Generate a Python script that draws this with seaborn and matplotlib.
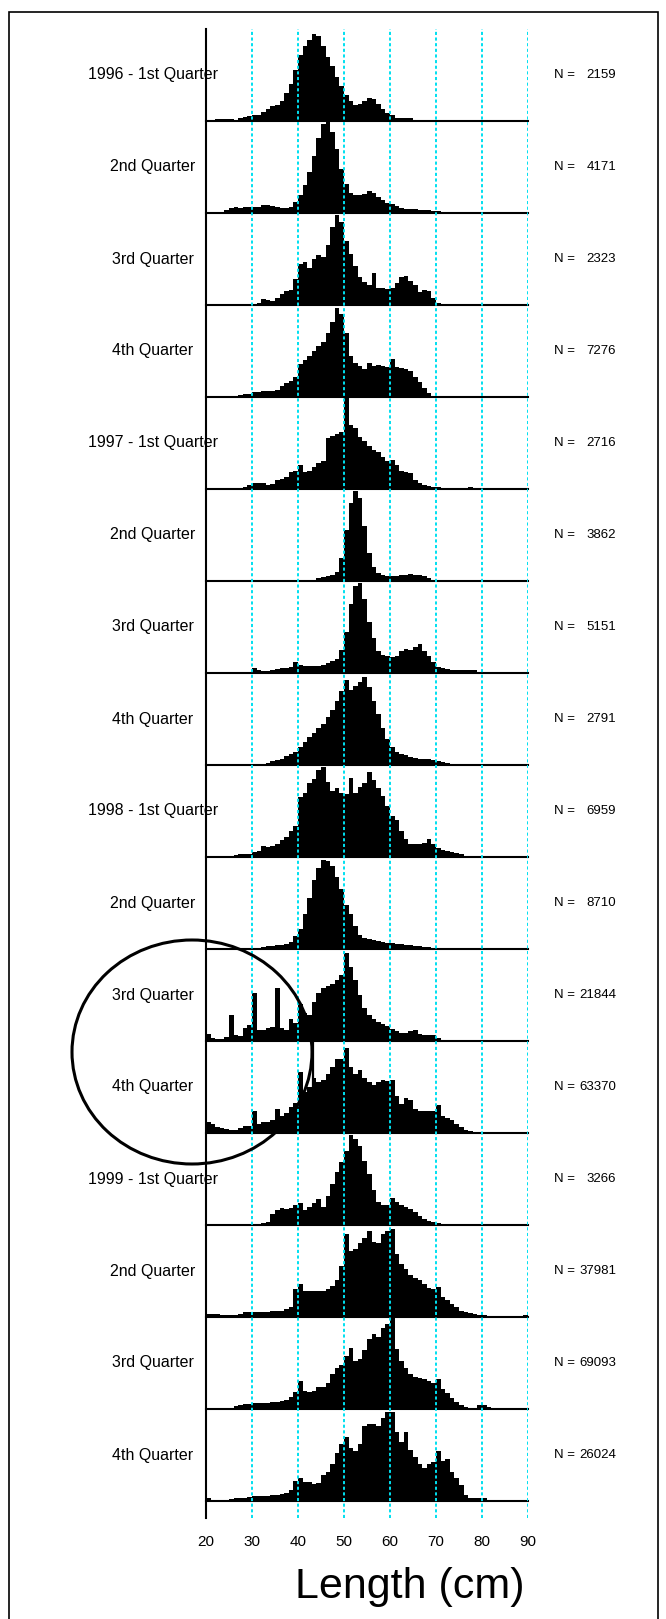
import numpy as np
import pandas as pd
import matplotlib
matplotlib.use("Agg")
import matplotlib.pyplot as plt
import seaborn as sns
from matplotlib.patches import Ellipse, Rectangle

sns.set_theme(style="white")
plt.rcParams["font.family"] = ["Liberation Sans", "DejaVu Sans"]

# ---------------- data ----------------
lengths = np.arange(20, 90)          # 1-cm length classes (lower edge, cm)
tick_values = [20, 30, 40, 50, 60, 70, 80, 90]
period_labels = ["1996 - 1st Quarter", "2nd Quarter", "3rd Quarter", "4th Quarter",
                 "1997 - 1st Quarter", "2nd Quarter", "3rd Quarter", "4th Quarter",
                 "1998 - 1st Quarter", "2nd Quarter", "3rd Quarter", "4th Quarter",
                 "1999 - 1st Quarter", "2nd Quarter", "3rd Quarter", "4th Quarter"]
sample_sizes = [2159, 4171, 2323, 7276, 2716, 3862, 5151, 2791,
                6959, 8710, 21844, 63370, 3266, 37981, 69093, 26024]

# relative frequency (% of panel height) per 1-cm class, 20..89 cm
q1996_1 = [0, 0, 2, 2, 2, 2, 1, 3, 4, 5,
           6, 7, 10, 13, 16, 17, 22, 30, 40, 55,
           72, 82, 88, 95, 92, 82, 70, 60, 48, 38,
           28, 22, 17, 18, 22, 25, 24, 19, 13, 9,
           6, 3, 3, 3, 3, 1, 0, 0, 0, 0,
           0, 0, 0, 0, 0, 0, 0, 0, 0, 0,
           0, 0, 0, 0, 0, 0, 0, 0, 0, 1]
q1996_2 = [0, 0, 0, 1, 3, 5, 6, 5, 7, 7,
           6, 6, 9, 9, 8, 6, 5, 5, 6, 12,
           20, 30, 45, 62, 82, 97, 100, 88, 70, 48,
           32, 22, 20, 20, 21, 24, 22, 17, 14, 11,
           10, 8, 5, 4, 4, 4, 3, 3, 3, 2,
           2, 0, 0, 0, 0, 1, 0, 0, 0, 0,
           0, 0, 0, 0, 0, 0, 0, 0, 0, 0]
q1996_3 = [0, 0, 0, 0, 0, 0, 0, 0, 0, 0,
           0, 2, 6, 5, 4, 8, 12, 15, 16, 28,
           45, 47, 40, 50, 54, 52, 65, 85, 98, 90,
           70, 55, 42, 30, 25, 22, 35, 19, 18, 17,
           18, 24, 30, 32, 26, 22, 14, 16, 15, 8,
           2, 0, 0, 0, 0, 0, 0, 0, 0, 0,
           0, 0, 0, 0, 0, 0, 0, 0, 0, 0]
q1996_4 = [0, 0, 0, 0, 0, 0, 0, 2, 3, 3,
           5, 5, 6, 6, 7, 8, 12, 15, 17, 22,
           36, 40, 45, 50, 55, 60, 70, 82, 97, 90,
           70, 45, 37, 34, 30, 37, 34, 35, 34, 33,
           41, 33, 31, 30, 28, 22, 16, 10, 4, 1,
           0, 0, 0, 0, 0, 0, 0, 0, 0, 0,
           0, 0, 0, 0, 0, 0, 0, 0, 0, 0]
q1997_1 = [0, 0, 0, 0, 0, 0, 0, 0, 2, 4,
           6, 7, 6, 4, 5, 10, 11, 13, 19, 20,
           26, 18, 20, 24, 28, 30, 55, 58, 60, 62,
           99, 70, 66, 56, 52, 47, 42, 40, 35, 30,
           31, 26, 20, 18, 17, 10, 6, 4, 3, 2,
           2, 0, 0, 0, 0, 0, 0, 2, 0, 0,
           0, 0, 0, 0, 0, 0, 0, 0, 0, 0]
q1997_2 = [0, 0, 0, 0, 0, 0, 0, 0, 0, 0,
           0, 0, 0, 0, 0, 0, 0, 0, 0, 0,
           0, 0, 0, 1, 3, 4, 5, 7, 10, 25,
           55, 85, 98, 90, 60, 30, 15, 9, 7, 5,
           5, 5, 6, 6, 8, 7, 6, 5, 3, 1,
           0, 0, 0, 0, 0, 0, 0, 0, 0, 0,
           0, 0, 0, 0, 0, 0, 0, 0, 0, 0]
q1997_3 = [0, 0, 0, 0, 0, 0, 0, 0, 0, 1,
           5, 3, 2, 2, 3, 4, 5, 5, 7, 12,
           9, 8, 8, 8, 8, 9, 11, 13, 15, 25,
           45, 75, 95, 98, 80, 55, 38, 24, 20, 18,
           17, 18, 24, 26, 25, 28, 32, 24, 18, 12,
           7, 5, 4, 3, 3, 3, 3, 3, 3, 1,
           0, 0, 0, 0, 0, 0, 0, 0, 0, 0]
q1997_4 = [0, 0, 0, 0, 0, 0, 0, 0, 0, 0,
           0, 0, 0, 2, 4, 5, 7, 10, 12, 14,
           20, 25, 30, 35, 40, 45, 52, 60, 70, 80,
           92, 82, 86, 90, 96, 85, 70, 55, 40, 28,
           20, 14, 12, 11, 9, 8, 7, 6, 6, 5,
           4, 3, 2, 0, 0, 0, 0, 0, 0, 0,
           0, 0, 0, 0, 0, 0, 0, 0, 0, 0]
q1998_1 = [0, 0, 0, 0, 0, 0, 2, 3, 3, 3,
           5, 7, 12, 11, 12, 14, 18, 22, 28, 34,
           65, 70, 80, 85, 95, 98, 82, 72, 75, 70,
           68, 86, 70, 76, 80, 92, 84, 75, 66, 55,
           45, 40, 28, 20, 14, 14, 14, 15, 20, 14,
           10, 8, 6, 5, 4, 3, 0, 0, 0, 0,
           0, 0, 0, 0, 0, 0, 0, 0, 0, 0]
q1998_2 = [0, 0, 0, 0, 0, 0, 0, 0, 0, 0,
           0, 0, 2, 3, 3, 4, 4, 5, 8, 14,
           22, 38, 55, 75, 88, 97, 96, 90, 78, 65,
           48, 38, 25, 15, 12, 11, 10, 9, 8, 7,
           6, 5, 5, 4, 4, 3, 3, 2, 2, 0,
           0, 0, 0, 0, 0, 0, 0, 0, 0, 0,
           0, 0, 0, 0, 0, 0, 0, 0, 0, 0]
q1998_3 = [8, 3, 2, 2, 4, 28, 6, 5, 14, 17,
           52, 12, 12, 14, 15, 58, 14, 12, 24, 20,
           40, 30, 28, 42, 52, 58, 60, 62, 66, 72,
           96, 80, 66, 50, 36, 28, 24, 21, 18, 16,
           13, 11, 9, 9, 11, 12, 8, 7, 7, 6,
           3, 0, 0, 0, 0, 0, 0, 0, 0, 0,
           0, 0, 0, 0, 0, 0, 0, 0, 0, 0]
q1998_4 = [12, 10, 6, 5, 4, 3, 3, 5, 8, 8,
           24, 10, 12, 12, 14, 26, 18, 22, 28, 33,
           66, 45, 50, 60, 55, 58, 64, 72, 80, 80,
           92, 72, 64, 68, 60, 55, 52, 55, 58, 56,
           58, 40, 32, 38, 36, 26, 24, 24, 24, 24,
           30, 19, 16, 14, 10, 6, 3, 2, 1, 1,
           0, 0, 0, 0, 0, 0, 0, 0, 0, 0]
q1999_1 = [0, 0, 0, 0, 0, 0, 0, 0, 0, 0,
           0, 1, 2, 3, 12, 16, 18, 17, 18, 22,
           24, 16, 20, 24, 28, 20, 32, 45, 58, 68,
           80, 98, 94, 86, 70, 55, 38, 25, 22, 22,
           29, 25, 22, 20, 17, 14, 10, 7, 4, 3,
           2, 0, 0, 0, 0, 0, 0, 0, 0, 0,
           0, 0, 0, 0, 0, 0, 0, 0, 0, 0]
q1999_2 = [3, 3, 3, 2, 2, 2, 2, 3, 5, 5,
           5, 5, 5, 5, 6, 6, 7, 9, 11, 30,
           36, 28, 28, 28, 28, 28, 30, 34, 40, 55,
           90, 72, 74, 80, 86, 94, 82, 80, 90, 94,
           96, 68, 58, 52, 46, 42, 40, 36, 32, 30,
           33, 22, 18, 14, 11, 7, 5, 4, 3, 2,
           2, 0, 0, 0, 0, 0, 0, 0, 0, 2]
q1999_3 = [0, 0, 0, 0, 0, 1, 3, 4, 5, 5,
           6, 6, 7, 7, 8, 8, 9, 10, 13, 18,
           30, 20, 18, 20, 24, 24, 28, 38, 45, 48,
           58, 66, 52, 54, 64, 76, 82, 78, 88, 92,
           99, 65, 52, 45, 38, 35, 34, 33, 30, 28,
           33, 22, 17, 12, 8, 4, 2, 1, 1, 4,
           4, 2, 0, 0, 0, 0, 0, 0, 0, 0]
q1999_4 = [3, 1, 1, 1, 1, 2, 3, 3, 3, 4,
           5, 5, 5, 5, 6, 7, 8, 9, 12, 22,
           25, 21, 21, 18, 20, 28, 32, 40, 52, 62,
           70, 58, 54, 62, 82, 84, 84, 82, 90, 97,
           97, 75, 64, 75, 55, 48, 40, 36, 40, 42,
           54, 44, 46, 32, 25, 17, 7, 3, 3, 3,
           3, 0, 0, 0, 0, 0, 0, 0, 0, 0]

series = [q1996_1, q1996_2, q1996_3, q1996_4,
          q1997_1, q1997_2, q1997_3, q1997_4,
          q1998_1, q1998_2, q1998_3, q1998_4,
          q1999_1, q1999_2, q1999_3, q1999_4]

# ---------------- layout (pixel based) ----------------
W, H = 666, 1619
fig = plt.figure(figsize=(W / 100, H / 100), dpi=100)
fig.patch.set_facecolor("white")

X0, X1 = 206, 528          # x pixel of 20 cm and 90 cm
BASE0, PH = 121, 92        # first baseline y (px from top), panel height
AX_TOP, AX_BOT = 29, 1518

def fx(px):
    return px / W

def fy(py):
    return 1 - py / H

for i, vals in enumerate(series):
    yb = BASE0 + PH * i
    ax = fig.add_axes([fx(X0), fy(yb), fx(X1) - fx(X0), PH / H], zorder=2)
    ax.patch.set_alpha(0)
    df = pd.DataFrame({"length": lengths + 0.5, "freq": vals})
    sns.histplot(data=df, x="length", weights="freq", binwidth=1, binrange=(20, 90),
                 element="step", fill=True, color="black", alpha=1, linewidth=0, ax=ax)
    ax.set_xlim(20, 90)
    ax.set_ylim(0, 100)
    ax.set_xticks([]); ax.set_yticks([])
    ax.set_xlabel(""); ax.set_ylabel("")
    for s in ["top", "right", "left"]:
        ax.spines[s].set_visible(False)
    ax.spines["bottom"].set_color("black")
    ax.spines["bottom"].set_linewidth(1.5)
    if i == 11:
        ax.axvline(43.3, color="black", lw=1.6)
    ymid = yb - PH / 2
    fig.text(fx(153), fy(ymid), period_labels[i], ha="center", va="center",
             fontsize=11.5, color="black")
    fig.text(fx(554), fy(ymid), "N =", ha="left", va="center",
             fontsize=9.5, color="black")
    fig.text(fx(616), fy(ymid), str(sample_sizes[i]), ha="right", va="center",
             fontsize=9.5, color="black")

# overlay axis: y-axis line, dotted cyan guides, tick labels
axf = fig.add_axes([fx(X0), fy(AX_BOT), fx(X1) - fx(X0), (AX_BOT - AX_TOP) / H], zorder=5)
axf.patch.set_alpha(0)
axf.set_xlim(20, 90)
axf.set_ylim(0, 1)
axf.set_yticks([])
axf.set_xticks(tick_values)
axf.set_xticklabels([str(t) for t in tick_values], fontsize=11, color="black")
axf.tick_params(axis="x", length=0, pad=12, colors="black")
axf.grid(False)
for t in tick_values[1:]:
    axf.axvline(t, color="#00e0f0", lw=1.4, linestyle=(0, (1.6, 1.3)), zorder=1)
for s in ["top", "right", "bottom"]:
    axf.spines[s].set_visible(False)
axf.spines["left"].set_color("black")
axf.spines["left"].set_linewidth(1.5)
axf.spines["left"].set_zorder(3)

fig.text(fx(410), fy(1587), "Length (cm)", ha="center", va="center",
         fontsize=31, color="black")

# hand-drawn ellipse annotation and outer frame
fig.add_artist(Ellipse((fx(192), fy(1052)), 240 / W, 224 / H, transform=fig.transFigure,
                       fill=False, ec="black", lw=2.2, zorder=20))
fig.add_artist(Rectangle((fx(9), fy(1630)), (658 - 9) / W, (1630 - 12) / H,
                         transform=fig.transFigure, fill=False, ec="black", lw=1.2,
                         zorder=20, clip_on=False))

fig.savefig("out.png", dpi=100, facecolor="white")
